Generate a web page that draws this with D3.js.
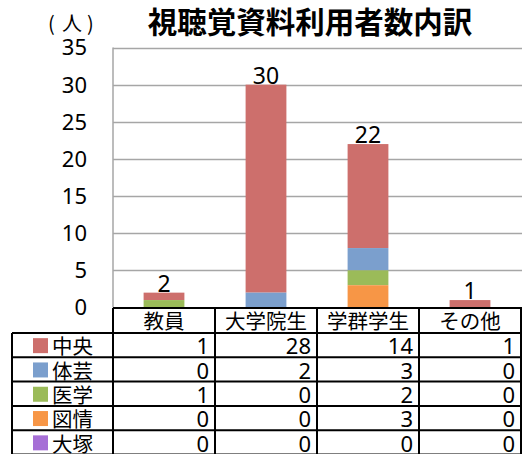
<!DOCTYPE html>
<html lang="ja">
<head>
<meta charset="UTF-8">
<title>視聴覚資料利用者数内訳</title>
<script src="https://d3js.org/d3.v7.min.js"></script>
<style>
    body { margin: 0; background: #fff; }
    svg { display: block; }
    .jp { font-family: "Noto Sans CJK JP", sans-serif; }
    .num { font-family: "Noto Sans", "DejaVu Sans", sans-serif; }
</style>
</head>
<body>
<svg width="522" height="454"></svg>
<script>
    // data
    const categories = ["教員", "大学院生", "学群学生", "その他"];
    const seriesNames = ["中央", "体芸", "医学", "図情", "大塚"];
    const chuo   = [1, 28, 14, 1];
    const taigei = [0, 2, 3, 0];
    const igaku  = [1, 0, 2, 0];
    const tojo   = [0, 0, 3, 0];
    const otsuka = [0, 0, 0, 0];
    const seriesColors = ["#cd6f6c", "#7b9fcd", "#9bbb59", "#f79646", "#a66fd6"];
    const yTicks = [0, 5, 10, 15, 20, 25, 30, 35];

    const seriesValues = [chuo, taigei, igaku, tojo, otsuka];
    const rows = categories.map((c, i) => {
        let r = { cat: c };
        seriesNames.forEach((s, j) => r[s] = seriesValues[j][i]);
        return r;
    });
    const totals = categories.map((c, i) => d3.sum(seriesValues, v => v[i]));

    const svg = d3.select("svg");

    const plotLeft = 113, plotRight = 521;
    const y = d3.scaleLinear().domain([0, 35]).range([307.5, 47.5]);
    const xCol = d3.scaleBand().domain(categories).range([plotLeft, plotRight]);
    const xBar = d3.scaleBand().domain(categories).range([plotLeft, plotRight])
        .paddingInner(0.6).paddingOuter(0.3);

    // title
    svg.append("text").attr("class", "jp")
        .attr("x", 310).attr("y", 33)
        .attr("text-anchor", "middle")
        .attr("font-size", 29.5).attr("font-weight", "bold")
        .text("視聴覚資料利用者数内訳");

    // unit label "（人）"
    const unit = svg.append("text").attr("class", "jp")
        .attr("y", 31).attr("font-size", 20);
    unit.append("tspan").attr("x", 48).text("(");
    unit.append("tspan").attr("x", 62).text("人");
    unit.append("tspan").attr("x", 87).text(")");

    // gridlines
    svg.append("g").selectAll("line")
        .data(yTicks.filter(t => t > 0))
        .enter().append("line")
        .attr("x1", plotLeft).attr("x2", 522)
        .attr("y1", d => Math.round(y(d)) + 0.5)
        .attr("y2", d => Math.round(y(d)) + 0.5)
        .attr("stroke", "#a6a6a6").attr("stroke-width", 1.5);

    svg.append("line")
        .attr("x1", plotLeft).attr("x2", plotLeft)
        .attr("y1", y(35)).attr("y2", y(0))
        .attr("stroke", "#a6a6a6").attr("stroke-width", 1.5);

    // y tick labels
    svg.append("g").selectAll("text")
        .data(yTicks)
        .enter().append("text")
        .attr("class", "num")
        .attr("x", 87).attr("y", d => y(d))
        .attr("dy", "0.36em")
        .attr("text-anchor", "end")
        .attr("font-size", 22)
        .text(d => d);

    // stacked bars
    const stack = d3.stack().keys(seriesNames).order(d3.stackOrderReverse);
    const stacked = stack(rows);
    const color = d3.scaleOrdinal().domain(seriesNames).range(seriesColors);

    svg.append("g").selectAll("g")
        .data(stacked)
        .enter().append("g")
        .attr("fill", d => color(d.key))
        .selectAll("rect")
        .data(d => d)
        .enter().append("rect")
        .attr("x", d => xBar(d.data.cat))
        .attr("width", xBar.bandwidth())
        .attr("y", d => y(d[1]))
        .attr("height", d => y(d[0]) - y(d[1]));

    // totals above bars
    svg.append("g").selectAll("text")
        .data(categories)
        .enter().append("text")
        .attr("class", "num")
        .attr("x", d => xBar(d) + xBar.bandwidth() / 2)
        .attr("y", (d, i) => y(totals[i]) - 1)
        .attr("text-anchor", "middle")
        .attr("font-size", 23)
        .text((d, i) => totals[i]);

    // data table
    const headTop = 308, rowTop = 333, rowH = 24.3, legLeft = 12;
    const table = svg.append("g");

    categories.forEach(c => {
        table.append("text").attr("class", "jp")
            .attr("x", xCol(c) + xCol.bandwidth() / 2)
            .attr("y", rowTop - 4)
            .attr("text-anchor", "middle")
            .attr("font-size", 20.5)
            .text(c);
    });

    seriesNames.forEach((s, j) => {
        let top = rowTop + j * rowH;
        table.append("rect")
            .attr("x", 33).attr("y", top + rowH / 2 - 7)
            .attr("width", 15).attr("height", 15)
            .attr("fill", seriesColors[j]);
        table.append("text").attr("class", "jp")
            .attr("x", 52).attr("y", top + rowH - 3)
            .attr("font-size", 20.5)
            .text(s);
        categories.forEach((c, i) => {
            table.append("text").attr("class", "num")
                .attr("x", xCol(c) + xCol.bandwidth() - 6)
                .attr("y", top + rowH - 3)
                .attr("text-anchor", "end")
                .attr("font-size", 22)
                .text(seriesValues[j][i]);
        });
    });

    // table borders
    const lines = [];
    lines.push([plotLeft, headTop, 522, headTop]);
    for (let j = 0; j <= seriesNames.length; j++) {
        lines.push([legLeft, rowTop + j * rowH, 522, rowTop + j * rowH]);
    }
    lines.push([legLeft, rowTop, legLeft, 454]);
    categories.forEach(c => lines.push([xCol(c), headTop, xCol(c), 454]));
    lines.push([plotRight, headTop, plotRight, 454]);

    table.selectAll("line")
        .data(lines)
        .enter().append("line")
        .attr("x1", d => d[0]).attr("y1", d => d[1])
        .attr("x2", d => d[2]).attr("y2", d => d[3])
        .attr("stroke", "#000").attr("stroke-width", 2);
</script>
</body>
</html>
